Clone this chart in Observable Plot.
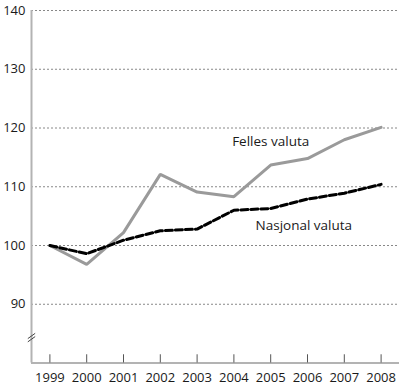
<!DOCTYPE html>
<html>
<head>
<meta charset="utf-8">
<script src="https://cdn.jsdelivr.net/npm/d3@7"></script>
<script src="https://cdn.jsdelivr.net/npm/@observablehq/plot@0.6"></script>
<style>
  html, body { margin: 0; padding: 0; background: #fff; }
  #chart svg { display: block; }
</style>
</head>
<body>
<div id="chart"></div>
<script>
const years = [1999, 2000, 2001, 2002, 2003, 2004, 2005, 2006, 2007, 2008];
const felles = [100, 96.8, 102.2, 112.1, 109.1, 108.3, 113.7, 114.8, 118.0, 120.1];
const nasjonal = [100, 98.6, 100.9, 102.5, 102.8, 106.0, 106.3, 107.9, 108.9, 110.4];
const yTicks = [90, 100, 110, 120, 130, 140];
const seriesLabels = ["Felles valuta", "Nasjonal valuta"];

const rowsF = years.map((y, i) => ({year: y, value: felles[i]}));
const rowsN = years.map((y, i) => ({year: y, value: nasjonal[i]}));

const font = "'Open Sans', 'Noto Sans', sans-serif";

const chart = Plot.plot({
  width: 400,
  height: 385,
  marginLeft: 31,
  marginRight: 1,
  marginTop: 10,
  marginBottom: 22.5,
  style: {fontFamily: font, background: "#fff"},
  x: {domain: [1998.5, 2008.5], axis: null},
  y: {domain: [80, 140], axis: null},
  marks: [
    Plot.ruleY(yTicks, {x1: 1998.5, x2: 2008.5, stroke: "#888", strokeWidth: 1, strokeDasharray: "2,2"}),
    Plot.ruleX([1998.5], {y1: 80, y2: 140, stroke: "#b3b3b3", strokeWidth: 2}),
    Plot.ruleY([80], {x1: 1998.5, x2: 2008.5, stroke: "#b3b3b3", strokeWidth: 2}),
    Plot.ruleX(years, {y1: 80, y2: 81.4, stroke: "#555", strokeWidth: 1}),
    Plot.link([0, 1], {
      x1: 1998.5 - 0.1, x2: 1998.5 + 0.1,
      y1: d => 83.6 + d * 0.55, y2: d => 84.5 + d * 0.55,
      stroke: "#444", strokeWidth: 1
    }),
    Plot.text(yTicks, {x: 1998.5, y: d => d, text: d => String(d), dx: -6, textAnchor: "end", fontSize: 13, fill: "#1a1a1a", fontFamily: font}),
    Plot.text(years, {x: d => d, y: 80, text: d => String(d), dy: 14.5, textAnchor: "middle", fontSize: 13, fill: "#1a1a1a", fontFamily: font}),
    Plot.line(rowsF, {x: "year", y: "value", stroke: "#9a9a9a", strokeWidth: 3, strokeLinejoin: "miter"}),
    Plot.line(rowsN, {x: "year", y: "value", stroke: "#000", strokeWidth: 3, strokeDasharray: "7,3"}),
    Plot.text([seriesLabels[0]], {x: 2005.0, y: 117.6, text: d => d, textAnchor: "middle", fontSize: 13.5, fill: "#1a1a1a", fontFamily: font}),
    Plot.text([seriesLabels[1]], {x: 2005.9, y: 103.4, text: d => d, textAnchor: "middle", fontSize: 13.5, fill: "#1a1a1a", fontFamily: font})
  ]
});

document.getElementById("chart").appendChild(chart);
</script>
</body>
</html>
